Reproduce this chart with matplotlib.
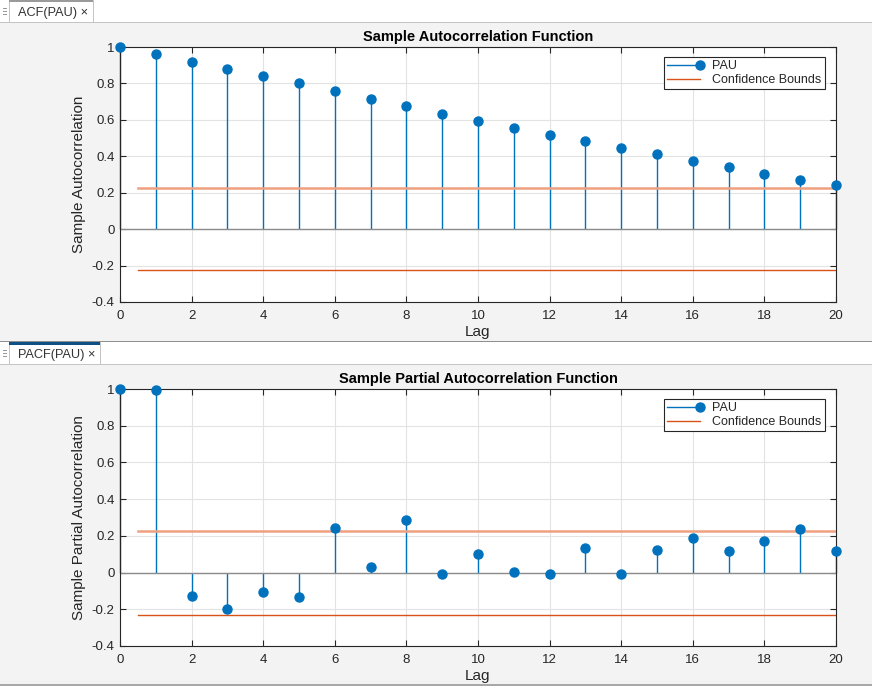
import matplotlib
matplotlib.use("Agg")
import matplotlib.pyplot as plt
from matplotlib.patches import Rectangle
from matplotlib.lines import Line2D
from matplotlib.legend_handler import HandlerLine2D
from matplotlib.ticker import FormatStrFormatter

plt.rcParams['font.family'] = ['Liberation Sans', 'DejaVu Sans']
plt.rcParams['axes.unicode_minus'] = False

# data
lags = list(range(21))
acf = [1.0, 0.96, 0.92, 0.88, 0.84, 0.80, 0.76, 0.715, 0.675, 0.63, 0.595,
       0.555, 0.515, 0.485, 0.445, 0.41, 0.375, 0.34, 0.30, 0.27, 0.245]
pacf = [1.0, 0.995, -0.13, -0.20, -0.105, -0.135, 0.245, 0.03, 0.285, -0.01, 0.10,
        0.005, -0.01, 0.135, -0.01, 0.125, 0.19, 0.115, 0.17, 0.24, 0.12]
acf_bound = 0.227
pacf_bound = 0.229
bound_lags = [0.5, 20]
x_ticks = list(range(0, 21, 2))
y_ticks = [-0.4, -0.2, 0, 0.2, 0.4, 0.6, 0.8, 1]

W, H = 872, 686
BLUE = '#0072BD'
ORANGE = '#D95319'
TXT = '#262626'

fig = plt.figure(figsize=(W / 100, H / 100), dpi=100)
fig.patch.set_facecolor('#f3f3f3')


def rect(x, y, w, h, color, z=0):
    # pixel coords, top-left origin
    fig.add_artist(Rectangle((x / W, 1 - (y + h) / H), w / W, h / H,
                             transform=fig.transFigure, facecolor=color,
                             edgecolor='none', zorder=z))


def tab_strip(y0, label, active):
    rect(0, y0, W, 22, 'white')
    rect(0, y0 + 22, W, 1, '#c4c4c4')
    rect(9, y0, 1, 22, '#c4c4c4')
    width = 84 if not active else 91
    rect(9 + width, y0, 1, 22, '#c4c4c4')
    rect(9, y0, width, 3 if active else 2, '#0e4f86' if active else '#9a9a9a')
    for k in range(3):
        rect(3, y0 + 8 + 3 * k, 4, 1, '#9a9a9a')
    fig.text(18 / W, 1 - (y0 + 13) / H, label, fontsize=9.2, color='#333333',
             va='center', ha='left')


class StemHandler(HandlerLine2D):
    # marker at the right end of the legend line, as in the reference
    def create_artists(self, legend, orig_handle, xdescent, ydescent,
                       width, height, fontsize, trans):
        arts = super().create_artists(legend, orig_handle, xdescent, ydescent,
                                      width, height, fontsize, trans)
        for a in arts:
            a.set_markevery([2])
        return arts


def panel(rect_pos, values, bound, title, ylabel):
    ax = fig.add_axes(rect_pos)
    ax.set_facecolor('white')
    m, s, b = ax.stem(lags, values, basefmt=' ')
    plt.setp(s, color=BLUE, linewidth=1.0, clip_on=False)
    plt.setp(m, color=BLUE, markersize=6.5, zorder=4, clip_on=False)
    ax.axhline(0, color='#8c8c8c', linewidth=1.0, zorder=2)
    ax.plot(bound_lags, [bound, bound], color='#eea07f', linewidth=1.8, zorder=3)
    ax.plot(bound_lags, [-bound, -bound], color=ORANGE, linewidth=1.0, zorder=3)
    ax.set_xlim(0, 20)
    ax.set_ylim(-0.4, 1)
    ax.set_xticks(x_ticks)
    ax.set_yticks(y_ticks)
    ax.yaxis.set_major_formatter(FormatStrFormatter('%g'))
    ax.grid(True, color='#e3e3e3', linewidth=0.8)
    ax.set_axisbelow(True)
    ax.tick_params(direction='in', top=True, right=True, length=4, width=0.8,
                   color=TXT, labelcolor=TXT, labelsize=9.5)
    ax.tick_params(axis='x', pad=6)
    ax.tick_params(axis='y', pad=4)
    for sp in ax.spines.values():
        sp.set_color(TXT)
        sp.set_linewidth(0.8)
    ax.set_title(title, fontsize=10.5, fontweight='bold', color='black', pad=4)
    ax.set_xlabel('Lag', fontsize=11, color=TXT, labelpad=2)
    ax.set_ylabel(ylabel, fontsize=11, color=TXT, labelpad=4)
    h1 = Line2D([], [], color=BLUE, linewidth=1.0, marker='o', markersize=6.5)
    h2 = Line2D([], [], color=ORANGE, linewidth=1.0)
    leg = ax.legend([h1, h2], ['PAU', 'Confidence Bounds'], loc='upper right',
                    bbox_to_anchor=(0.984, 0.96), fontsize=9, fancybox=False,
                    framealpha=1, edgecolor=TXT, borderpad=0.25,
                    handlelength=2.6, handletextpad=1.0, labelspacing=0.15,
                    borderaxespad=0, handler_map={h1: StemHandler(numpoints=1)})
    leg.get_frame().set_linewidth(0.8)
    for t in leg.get_texts():
        t.set_color(TXT)
    return ax


# top tab and panel
tab_strip(0, 'ACF(PAU) \u00d7', False)
panel([120 / W, 1 - 302 / H, 716 / W, 255 / H], acf, acf_bound,
      'Sample Autocorrelation Function', 'Sample Autocorrelation')

# bottom tab and panel
rect(0, 341, W, 1, '#8f8f8f')
tab_strip(342, 'PACF(PAU) \u00d7', True)
panel([120 / W, 1 - 646 / H, 716 / W, 257 / H], pacf, pacf_bound,
      'Sample Partial Autocorrelation Function', 'Sample Partial Autocorrelation')
rect(0, 684, W, 2, '#a8a8a8')

fig.savefig('out.png', dpi=100, facecolor=fig.get_facecolor())
